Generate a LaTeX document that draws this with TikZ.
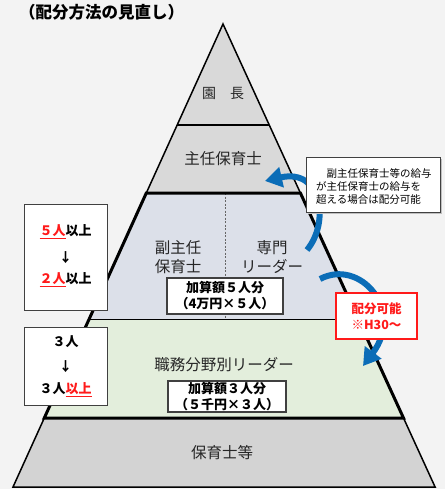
\documentclass[tikz,border=0pt]{standalone}
\usepackage{fontspec}
\setmainfont{Noto Sans CJK JP}
\usetikzlibrary{arrows.meta}
\definecolor{bg}{HTML}{F3F3F3}
\definecolor{gtop}{HTML}{D9D9D9}
\definecolor{gbot}{HTML}{D3D3D3}
\definecolor{bluedot}{HTML}{DCE0E9}
\definecolor{greendot}{HTML}{E3EEDC}
\definecolor{txt}{HTML}{262626}
\definecolor{arrowblue}{HTML}{0B6DB7}
\definecolor{redc}{HTML}{FF1A1A}
\definecolor{boxline}{HTML}{404040}
\tikzset{
  lbl/.style={text=txt, font=\fontsize{15.5}{19}\selectfont, inner sep=0pt, align=center},
  addbox/.style={draw=boxline, line width=1.2pt, fill=white, inner sep=0pt},
  addtxt/.style={font=\bfseries\fontsize{13}{16}\selectfont, align=center, inner sep=0pt},
  sidebox/.style={draw=boxline, line width=1pt, fill=white, inner sep=0pt},
  sidetxt/.style={font=\bfseries\fontsize{13}{16}\selectfont, inner sep=0pt},
  bigarrow/.style={draw=arrowblue, line width=6pt, -{Triangle[width=20pt,length=17pt]}},
}
\begin{document}
\begin{tikzpicture}[x=1pt,y=-1pt]
\useasboundingbox[fill=bg] (0,0) rectangle (445,489);
% pyramid corners
\coordinate (A) at (223,24);
\coordinate (L1) at (177.2,125); \coordinate (R1) at (269.3,125);
\coordinate (L2) at (146.3,193); \coordinate (R2) at (300.4,193);
\coordinate (L3) at (89.2,319);  \coordinate (R3) at (358.1,319);
\coordinate (L4) at (44.3,418);  \coordinate (R4) at (403.5,418);
\coordinate (L5) at (13,487);    \coordinate (R5) at (435.1,487);
\coordinate (dT) at (225,193);   \coordinate (dB) at (225,319);
% fills
\fill[gtop] (A) -- (R2) -- (L2) -- cycle;
\fill[bluedot] (L2) -- (R2) -- (R3) -- (L3) -- cycle;
\fill[greendot] (L3) -- (R3) -- (R4) -- (L4) -- cycle;
\fill[gbot] (L4) -- (R4) -- (R5) -- (L5) -- cycle;
% lines
\draw[line width=1.5pt] (L2) -- (A) -- (R2);
\draw[line width=1.2pt] (L1) -- (R1);
\draw[line width=0.9pt] (L3) -- (R3);
\draw[dash pattern=on 2pt off 1.5pt, line width=0.8pt, black!60] (dT) -- (dB);
\draw[line width=1.5pt] (L4) -- (L5) -- (R5) -- (R4);
\draw[line width=3pt, line join=miter] (L2) -- (R2) -- (R4) -- (L4) -- cycle;
% title
\node[font=\bfseries\fontsize{16.5}{18}\selectfont, anchor=west, inner sep=0pt] (title) at (19,12) {（配分方法の見直し）};
% layer labels
\node[lbl, font=\fontsize{14}{16}\selectfont] (enchou) at (223,93) {園　長};
\node[lbl] (shunin) at (223,159) {主任保育士};
\node[lbl] (fuku) at (178,257) {副主任\\保育士};
\node[lbl] (senmon) at (272,257) {専門\\リーダー};
\node[lbl] (shokumu) at (224,365) {職務分野別リーダー};
\node[lbl] (hoiku) at (222,453) {保育士等};
% addition boxes
\node[addbox, minimum width=116pt, minimum height=36pt] (box5) at (225,296) {};
\node[addtxt] (box5t) at (box5.center) {加算額５人分\\（4万円×５人）};
\node[addbox, minimum width=118pt, minimum height=31pt] (box3) at (227,396.5) {};
\node[addtxt] (box3t) at (box3.center) {加算額３人分\\（５千円×３人）};
% side boxes
\node[sidebox, minimum width=83pt, minimum height=106pt] (sb1) at (65.5,257) {};
\node[sidetxt] (sb1a) at (65.5,232) {\textcolor{redc}{\underline{５人}}以上};
\node[sidetxt] (sb1b) at (65.5,258) {↓};
\node[sidetxt] (sb1c) at (65.5,280) {\textcolor{redc}{\underline{２人}}以上};
\node[sidebox, minimum width=83pt, minimum height=78pt] (sb2) at (65.5,366.5) {};
\node[sidetxt] (sb2a) at (65.5,342) {３人};
\node[sidetxt] (sb2b) at (65.5,367) {↓};
\node[sidetxt] (sb2c) at (65.5,390) {３人\textcolor{redc}{\underline{以上}}};
% arrows
\coordinate (a1s) at (307,250);
\coordinate (a1e) at (265,181);
\draw[bigarrow] (a1s) .. controls (330,222) and (322,168) .. (a1e);
\coordinate (a2s) at (320,279);
\coordinate (a2e) at (363,366);
\draw[bigarrow] (a2s) .. controls (360,258) and (405,310) .. (a2e);
% callout
\node[fill=black!25, minimum width=134pt, minimum height=55pt, inner sep=0pt] (cshadow) at (375,186.5) {};
\node[draw=boxline, line width=1pt, fill=white, minimum width=134pt, minimum height=55pt, inner sep=0pt] (callout) at (373,184.5) {};
\node[font=\fontsize{10.5}{13}\selectfont, align=left, anchor=west, inner sep=0pt] (calltxt) at (316,187) {　副主任保育士等の給与\\が主任保育士の給与を\\超える場合は配分可能};
% red box
\node[draw=redc, line width=1.5pt, fill=white, minimum width=81pt, minimum height=46pt, inner sep=0pt] (redbox) at (376.5,316) {};
\node[text=redc, font=\bfseries\fontsize{12.5}{16}\selectfont, align=center, inner sep=0pt] (redtxt) at (redbox.center) {配分可能\\※H30～};
\end{tikzpicture}
\end{document}
